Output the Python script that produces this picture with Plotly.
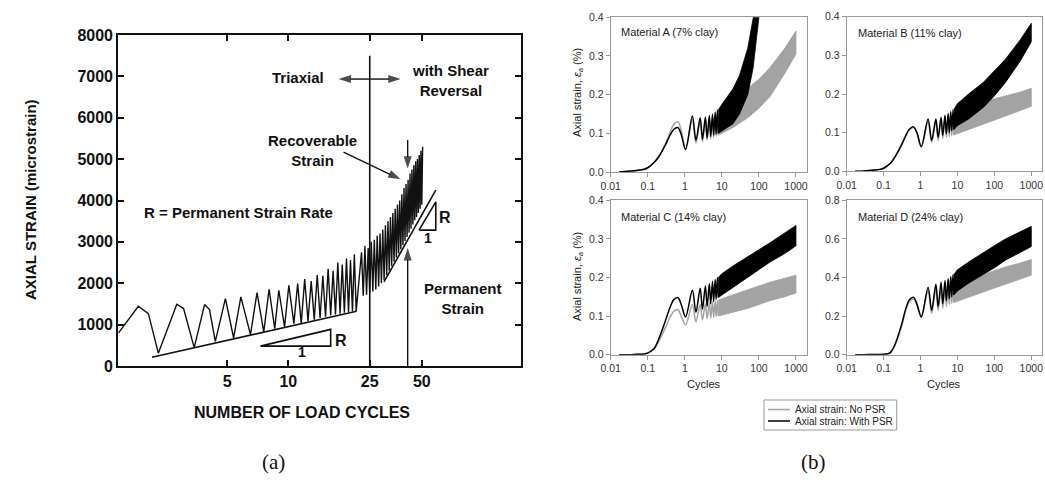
import numpy as np
import plotly.graph_objects as go

W, H = 1045, 480

# ======================= Panel (a) data (scanned chart) =======================
a_tick_cycles = [5, 10.3, 27, 50]
a_tick_labels = ["5", "10", "25", "50"]

a_start_cycles = [1.38, 1.745, 1.965, 2.21, 2.75, 2.98, 3.38, 3.82, 4.05, 4.34, 4.89, 5.39,
                  5.87, 6.58, 7.11, 7.7, 8.2, 8.77, 9.2, 9.85, 10.36, 11.0]
a_start_strain = [800, 1444, 1267, 310, 1492, 1388, 445, 1485, 1364, 597, 1630, 677,
                  1669, 760, 1776, 823, 1855, 905, 1831, 944, 1952, 1025]

a_tri_peak_cycles = [11.5, 12.5, 13.5, 14.5, 15.5, 16.5, 17.5, 18.5, 19.5, 20.5, 21.5, 22.5]
a_tri_peak_strain = [1990, 2100, 2050, 2200, 2180, 2350, 2300, 2500, 2450, 2600, 2560, 2700]
a_tri_trough_cycles = [12, 13, 14, 15, 16, 17, 18, 19, 20, 21, 22, 23]
a_tri_trough_strain = [1030, 1080, 1120, 1160, 1190, 1220, 1245, 1265, 1285, 1300, 1315, 1325]

a_shear_peak_cycles = [24.5, 25.5, 26.5, 27.5, 28.5, 29.5, 30.5, 31.5, 32.5, 33.5, 34.5, 35.5,
                       36.5, 37.5, 38.5, 39.5, 40.5, 41.5, 42.5, 43.5, 44.5, 45.5, 46.5, 47.5,
                       48.5, 49.5, 50.5]
a_shear_peak_strain = [2750, 2900, 2850, 3000, 3050, 3150, 3200, 3300, 3400, 3500, 3600, 3700,
                       3800, 3900, 4000, 4150, 4300, 4400, 4500, 4650, 4750, 4850, 4950, 5000,
                       5100, 5200, 5300]
a_shear_trough_cycles = [25, 26, 27, 28, 29, 30, 31, 32, 33, 34, 35, 36, 37, 38, 39, 40, 41,
                         42, 43, 44, 45, 46, 47, 48, 49, 50]
a_shear_trough_strain = [1700, 1720, 1760, 1800, 1850, 1920, 2000, 2080, 2200, 2300, 2420,
                         2520, 2620, 2720, 2820, 2920, 3020, 3120, 3220, 3320, 3420, 3520,
                         3600, 3700, 3800, 3900]

a_perm1_cycles = [2.05, 23.1]
a_perm1_strain = [210, 1325]
a_perm2_cycles = [31.96, 59.0]
a_perm2_strain = [2032, 4250]
a_rate1_cycles = [7.4, 17.0, 17.0, 7.4]
a_rate1_strain = [480, 885, 480, 480]
a_rate2_cycles = [48.4, 59.0, 59.0, 48.4]
a_rate2_strain = [3283, 3968, 3283, 3283]
a_divider_cycles = [27, 27]
a_divider_strain = [0, 7500]

# arrows (start -> head)
a_arrow_start_cycles = [27, 27, 19.8, 42.3, 42.3]
a_arrow_start_strain = [6935, 6935, 5170, 5460, 0]
a_arrow_end_cycles = [17.6, 41.3, 41.0, 42.3, 42.3]
a_arrow_end_strain = [6935, 6935, 4460, 4650, 2970]

# ======================= Panel (b) data =======================
ramp_cycles = [0.017, 0.03, 0.05, 0.08, 0.1, 0.15, 0.2, 0.3, 0.4, 0.5, 0.65, 0.8, 1.05]
osc_peak_cycles = [1.6, 2.6, 3.6, 4.6, 5.6, 6.6, 7.6]
osc_trough_cycles = [2, 3, 4, 5, 6, 7, 8]
band_cycles = [8, 10, 20, 50, 100, 200, 500, 1000]

# Material A
A_nopsr_ramp = [0.0, 0.002, 0.004, 0.007, 0.011, 0.025, 0.04, 0.072, 0.103, 0.123, 0.13, 0.108, 0.06]
A_nopsr_peaks = [0.135, 0.132, 0.134, 0.138, 0.142, 0.146, 0.15]
A_nopsr_troughs = [0.075, 0.079, 0.082, 0.086, 0.089, 0.092, 0.095]
A_nopsr_band_hi = [0.15, 0.16, 0.185, 0.215, 0.24, 0.27, 0.32, 0.365]
A_nopsr_band_lo = [0.095, 0.1, 0.115, 0.14, 0.165, 0.195, 0.255, 0.305]
A_psr_ramp = [0.0, 0.002, 0.004, 0.007, 0.011, 0.025, 0.04, 0.07, 0.095, 0.11, 0.115, 0.097, 0.058]
A_psr_peaks = [0.145, 0.14, 0.142, 0.146, 0.15, 0.155, 0.16]
A_psr_troughs = [0.082, 0.085, 0.088, 0.092, 0.095, 0.098, 0.1]
A_psr_band_cycles = [8, 10, 20, 30, 50, 70, 100]
A_psr_band_hi = [0.16, 0.175, 0.215, 0.25, 0.32, 0.4, 0.48]
A_psr_band_lo = [0.1, 0.105, 0.125, 0.15, 0.2, 0.27, 0.4]

# Material B
B_nopsr_ramp = [0.0, 0.001, 0.003, 0.005, 0.008, 0.02, 0.036, 0.066, 0.092, 0.108, 0.113, 0.098, 0.062]
B_nopsr_peaks = [0.128, 0.128, 0.132, 0.136, 0.14, 0.143, 0.146]
B_nopsr_troughs = [0.075, 0.08, 0.085, 0.088, 0.09, 0.092, 0.094]
B_nopsr_band_hi = [0.146, 0.152, 0.165, 0.178, 0.188, 0.195, 0.205, 0.215]
B_nopsr_band_lo = [0.094, 0.098, 0.108, 0.122, 0.133, 0.143, 0.157, 0.168]
B_psr_ramp = [0.0, 0.001, 0.003, 0.005, 0.008, 0.02, 0.036, 0.067, 0.093, 0.109, 0.115, 0.1, 0.064]
B_psr_peaks = [0.135, 0.135, 0.14, 0.145, 0.15, 0.155, 0.16]
B_psr_troughs = [0.08, 0.088, 0.093, 0.097, 0.1, 0.105, 0.108]
B_psr_band_hi = [0.16, 0.175, 0.2, 0.23, 0.26, 0.29, 0.34, 0.383]
B_psr_band_lo = [0.108, 0.118, 0.135, 0.165, 0.195, 0.23, 0.285, 0.335]

# Material C
C_nopsr_ramp = [0.0, 0.0, 0.001, 0.002, 0.004, 0.015, 0.035, 0.07, 0.097, 0.112, 0.117, 0.1, 0.077]
C_nopsr_peaks = [0.13, 0.13, 0.132, 0.135, 0.137, 0.139, 0.141]
C_nopsr_troughs = [0.085, 0.09, 0.093, 0.095, 0.097, 0.099, 0.1]
C_nopsr_band_hi = [0.141, 0.145, 0.155, 0.168, 0.178, 0.188, 0.198, 0.206]
C_nopsr_band_lo = [0.1, 0.103, 0.11, 0.12, 0.13, 0.14, 0.15, 0.16]
C_psr_ramp = [0.0, 0.0, 0.001, 0.002, 0.004, 0.017, 0.042, 0.088, 0.123, 0.142, 0.148, 0.13, 0.098]
C_psr_peaks = [0.167, 0.172, 0.178, 0.184, 0.19, 0.195, 0.2]
C_psr_troughs = [0.11, 0.118, 0.125, 0.132, 0.138, 0.143, 0.148]
C_psr_band_hi = [0.2, 0.21, 0.23, 0.255, 0.272, 0.29, 0.315, 0.335]
C_psr_band_lo = [0.148, 0.155, 0.175, 0.2, 0.22, 0.24, 0.262, 0.282]

# Material D
D_nopsr_ramp = [0.0, 0.0, 0.001, 0.001, 0.002, 0.008, 0.045, 0.14, 0.23, 0.275, 0.288, 0.255, 0.2]
D_nopsr_peaks = [0.33, 0.34, 0.345, 0.35, 0.355, 0.36, 0.365]
D_nopsr_troughs = [0.215, 0.23, 0.24, 0.25, 0.26, 0.265, 0.27]
D_nopsr_band_hi = [0.365, 0.375, 0.39, 0.415, 0.435, 0.455, 0.475, 0.493]
D_nopsr_band_lo = [0.27, 0.28, 0.3, 0.325, 0.345, 0.365, 0.39, 0.412]
D_psr_ramp = [0.0, 0.0, 0.001, 0.001, 0.002, 0.01, 0.05, 0.15, 0.24, 0.285, 0.297, 0.262, 0.195]
D_psr_peaks = [0.35, 0.365, 0.375, 0.385, 0.395, 0.405, 0.415]
D_psr_troughs = [0.23, 0.25, 0.265, 0.28, 0.29, 0.3, 0.31]
D_psr_band_hi = [0.415, 0.44, 0.48, 0.53, 0.565, 0.6, 0.635, 0.665]
D_psr_band_lo = [0.31, 0.33, 0.37, 0.415, 0.45, 0.49, 0.53, 0.56]

material_titles = ["Material A (7% clay)", "Material B (11% clay)",
                   "Material C (14% clay)", "Material D (24% clay)"]
b_xtick_vals = [0.01, 0.1, 1, 10, 100, 1000]
b_xtick_text = ["0.01", "0.1", "1", "10", "100", "1000"]
legend_labels = ["Axial strain: No PSR", "Axial strain: With PSR"]

GRAY = "#a3a3a3"
BLACK = "#000000"
INK = "#111111"


def interleave(pk_x, pk_y, tr_x, tr_y):
    xs, ys = [], []
    for i in range(len(tr_x)):
        xs += [pk_x[i], tr_x[i]]
        ys += [pk_y[i], tr_y[i]]
    if len(pk_x) > len(tr_x):
        xs.append(pk_x[-1])
        ys.append(pk_y[-1])
    return xs, ys


fig = go.Figure()

# ---------------- Panel (a) traces ----------------
tx, ty = interleave(a_tri_peak_cycles, a_tri_peak_strain, a_tri_trough_cycles, a_tri_trough_strain)
sx, sy = interleave(a_shear_peak_cycles, a_shear_peak_strain, a_shear_trough_cycles, a_shear_trough_strain)
fig.add_trace(go.Scatter(x=a_start_cycles + tx + sx, y=a_start_strain + ty + sy, mode="lines",
                         line=dict(color=INK, width=1.4), xaxis="x", yaxis="y",
                         showlegend=False, hoverinfo="skip"))
for cx, cy in [(a_perm1_cycles, a_perm1_strain), (a_perm2_cycles, a_perm2_strain),
               (a_rate1_cycles, a_rate1_strain), (a_rate2_cycles, a_rate2_strain),
               (a_divider_cycles, a_divider_strain)]:
    fig.add_trace(go.Scatter(x=cx, y=cy, mode="lines", line=dict(color=INK, width=1.6),
                             xaxis="x", yaxis="y", showlegend=False, hoverinfo="skip"))
for c0, s0, c1, s1 in zip(a_arrow_start_cycles, a_arrow_start_strain,
                          a_arrow_end_cycles, a_arrow_end_strain):
    fig.add_trace(go.Scatter(x=[c0, c1], y=[s0, s1], mode="lines+markers",
                             line=dict(color=INK, width=1.4),
                             marker=dict(symbol="arrow", size=[0, 13], angleref="previous",
                                         standoff=5, color=BLACK, line=dict(width=0)),
                             xaxis="x", yaxis="y", showlegend=False, hoverinfo="skip",
                             cliponaxis=False))

# ---------------- Panel (b) traces ----------------
materials = [
    ("x2", "y2", (A_nopsr_ramp, A_nopsr_peaks, A_nopsr_troughs, band_cycles, A_nopsr_band_hi, A_nopsr_band_lo),
     (A_psr_ramp, A_psr_peaks, A_psr_troughs, A_psr_band_cycles, A_psr_band_hi, A_psr_band_lo)),
    ("x3", "y3", (B_nopsr_ramp, B_nopsr_peaks, B_nopsr_troughs, band_cycles, B_nopsr_band_hi, B_nopsr_band_lo),
     (B_psr_ramp, B_psr_peaks, B_psr_troughs, band_cycles, B_psr_band_hi, B_psr_band_lo)),
    ("x4", "y4", (C_nopsr_ramp, C_nopsr_peaks, C_nopsr_troughs, band_cycles, C_nopsr_band_hi, C_nopsr_band_lo),
     (C_psr_ramp, C_psr_peaks, C_psr_troughs, band_cycles, C_psr_band_hi, C_psr_band_lo)),
    ("x5", "y5", (D_nopsr_ramp, D_nopsr_peaks, D_nopsr_troughs, band_cycles, D_nopsr_band_hi, D_nopsr_band_lo),
     (D_psr_ramp, D_psr_peaks, D_psr_troughs, band_cycles, D_psr_band_hi, D_psr_band_lo)),
]
for xa, ya, nopsr, psr in materials:
    for series, col in [(nopsr, GRAY), (psr, BLACK)]:
        ramp, pk, tr, bx, bhi, blo = series
        ox, oy = interleave(osc_peak_cycles, pk, osc_trough_cycles, tr)
        fig.add_trace(go.Scatter(x=ramp_cycles + ox, y=ramp + oy, mode="lines",
                                 line=dict(color=col, width=1.5, shape="spline", smoothing=0.9),
                                 xaxis=xa, yaxis=ya, showlegend=False, hoverinfo="skip"))
        fig.add_trace(go.Scatter(x=list(bx) + list(bx)[::-1], y=list(bhi) + list(blo)[::-1],
                                 mode="lines", fill="toself", fillcolor=col,
                                 line=dict(color=col, width=0.8),
                                 xaxis=xa, yaxis=ya, showlegend=False, hoverinfo="skip"))


# ---------------- Layout ----------------
def px_x(p):
    return p / W


def px_y(p):
    return 1 - p / H


A_FONT = dict(family="Liberation Sans, Arial, sans-serif", size=16, color=INK, weight="bold")
a_axis = dict(showline=True, linecolor=INK, linewidth=1.6, mirror="ticks",
              ticks="inside", ticklen=6, tickwidth=1.6, tickcolor=INK,
              showgrid=False, zeroline=False, tickfont=A_FONT, automargin=False)

B_FONT = dict(family="Liberation Sans, Arial, sans-serif", size=10.5, color="#333333")
b_xaxis = dict(type="log", range=[-2, 3.29], tickvals=b_xtick_vals, ticktext=b_xtick_text,
               showline=True, linecolor="#999999", linewidth=1, mirror=True,
               ticks="outside", ticklen=4, tickcolor="#999999", showgrid=False,
               zeroline=False, tickfont=B_FONT, automargin=False)
b_yaxis = dict(showline=True, linecolor="#999999", linewidth=1, mirror=True,
               ticks="outside", ticklen=4, tickcolor="#999999", showgrid=False,
               zeroline=False, tickfont=B_FONT, tickformat=".1f", automargin=False)

layout = dict(
    width=W, height=H, margin=dict(l=0, r=0, t=0, b=0, pad=0, autoexpand=False),
    paper_bgcolor="white", plot_bgcolor="white", showlegend=False,
    xaxis=dict(a_axis, domain=[px_x(118), px_x(521)], anchor="y", type="log",
               range=[0.1371, 2.209], tickvals=a_tick_cycles, ticktext=a_tick_labels),
    yaxis=dict(a_axis, domain=[px_y(366), px_y(35)], anchor="x", range=[0, 8000], dtick=1000),
    xaxis2=dict(b_xaxis, domain=[px_x(610.7), px_x(806.7)], anchor="y2"),
    yaxis2=dict(b_yaxis, domain=[px_y(172), px_y(17.3)], anchor="x2", range=[0, 0.4], dtick=0.1),
    xaxis3=dict(b_xaxis, domain=[px_x(846.7), px_x(1042)], anchor="y3"),
    yaxis3=dict(b_yaxis, domain=[px_y(171.3), px_y(16.7)], anchor="x3", range=[0, 0.4], dtick=0.1),
    xaxis4=dict(b_xaxis, domain=[px_x(610.7), px_x(806.7)], anchor="y4"),
    yaxis4=dict(b_yaxis, domain=[px_y(354.7), px_y(200.3)], anchor="x4", range=[0, 0.4], dtick=0.1),
    xaxis5=dict(b_xaxis, domain=[px_x(846.7), px_x(1042)], anchor="y5"),
    yaxis5=dict(b_yaxis, domain=[px_y(354.7), px_y(200.3)], anchor="x5", range=[0, 0.8], dtick=0.2),
)
fig.update_layout(**layout)

ann = []
TXT_A = dict(family="Liberation Sans, Arial, sans-serif", size=15, color=INK, weight="bold")
lg = np.log10


def a_text(text, c, s, size=15):
    ann.append(dict(text=text, x=lg(c), y=s, xref="x", yref="y", showarrow=False,
                    font=dict(TXT_A, size=size), xanchor="center", yanchor="middle",
                    align="center"))


a_text("Triaxial", 11.6, 6984)
a_text("with Shear<br>Reversal", 70.5, 6910)
a_text("Recoverable<br>Strain", 13.7, 5218)
a_text("R = Permanent Strain Rate", 5.70, 3718)
a_text("Permanent<br>Strain", 81.3, 1640)
a_text("R", 19.1, 622, 16)
a_text("1", 12.1, 340, 14)
a_text("R", 65.6, 3590, 16)
a_text("1", 53.5, 3082, 14)

# axis titles for (a)
ann.append(dict(text="AXIAL STRAIN (microstrain)", x=px_x(30), y=px_y(200), xref="paper",
                yref="paper", showarrow=False, textangle=-90, font=dict(TXT_A, size=15),
                xanchor="center", yanchor="middle"))
ann.append(dict(text="NUMBER OF LOAD CYCLES", x=px_x(302), y=px_y(412), xref="paper",
                yref="paper", showarrow=False, font=dict(TXT_A, size=16),
                xanchor="center", yanchor="middle"))

# Panel (b) texts
TXT_B = dict(family="Liberation Sans, Arial, sans-serif", size=11, color="#222222")
for t, (xp, yp) in zip(material_titles, [(619.3, 31.7), (855.7, 32.7), (619.3, 216.7), (855.7, 216.7)]):
    ann.append(dict(text=t, x=px_x(xp), y=px_y(yp), xref="paper", yref="paper", showarrow=False,
                    font=TXT_B, xanchor="left", yanchor="middle"))
for yp in [93, 277]:
    ann.append(dict(text="Axial strain, <i>\u03b5<sub>a</sub></i> (%)", x=px_x(578), y=px_y(yp),
                    xref="paper", yref="paper", showarrow=False, textangle=-90, font=TXT_B,
                    xanchor="center", yanchor="middle"))
for xp in [704, 944]:
    ann.append(dict(text="Cycles", x=px_x(xp), y=px_y(384), xref="paper", yref="paper",
                    showarrow=False, font=TXT_B, xanchor="center", yanchor="middle"))

# legend for (b)
shapes = [dict(type="rect", xref="paper", yref="paper", x0=px_x(764), x1=px_x(896.7),
               y0=px_y(430), y1=px_y(400), line=dict(color="#999999", width=1))]
for lbl, col, yp in zip(legend_labels, [GRAY, BLACK], [409.5, 421]):
    shapes.append(dict(type="line", xref="paper", yref="paper", x0=px_x(768), x1=px_x(790),
                       y0=px_y(yp), y1=px_y(yp), line=dict(color=col, width=1.5)))
    ann.append(dict(text=lbl, x=px_x(793), y=px_y(yp), xref="paper", yref="paper",
                    showarrow=False, font=dict(TXT_B, size=10), xanchor="left", yanchor="middle"))

# captions
CAP = dict(family="Liberation Serif, DejaVu Serif, serif", size=21, color=INK)
for t, xp in [("(a)", 273), ("(b)", 813)]:
    ann.append(dict(text=t, x=px_x(xp), y=px_y(462), xref="paper", yref="paper",
                    showarrow=False, font=CAP, xanchor="center", yanchor="middle"))

fig.update_layout(annotations=ann, shapes=shapes)
fig.write_html("out.html")
